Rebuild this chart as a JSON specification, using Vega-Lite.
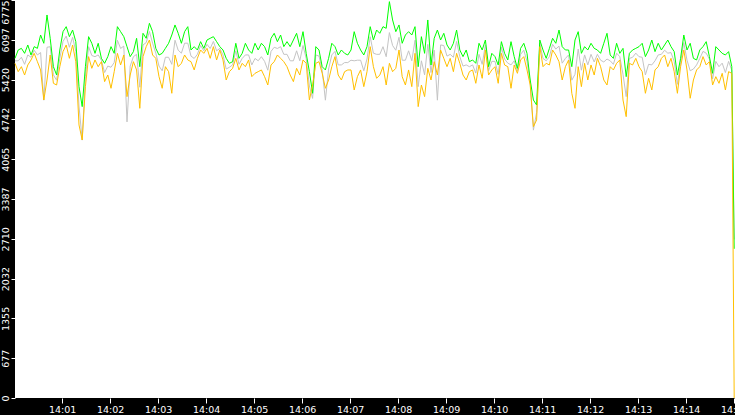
{
  "$schema": "https://vega.github.io/schema/vega-lite/v6.json",
  "width": 720,
  "height": 398,
  "autosize": {"type": "none"},
  "padding": {"left": 15, "top": 0, "right": 0, "bottom": 17},
  "background": "black",
  "config": {
    "view": {"fill": "white", "stroke": null},
    "axis": {
      "grid": false,
      "domain": false,
      "tickColor": "white",
      "labelColor": "white",
      "labelFont": "DejaVu Sans",
      "labelFontSize": 9.5,
      "labelOverlap": false,
      "title": null
    },
    "axisY": {"labelOverlap": false}
  },
  "data": {
    "values": [
      {"t":1,"g":5782,"o":5697,"k":5740},{"t":5,"g":5924,"o":5555,"k":5740},{"t":9,"g":5952,"o":5640,"k":5800},{"t":13,"g":5867,"o":5498,"k":5680},
      {"t":17,"g":6009,"o":5669,"k":5840},{"t":21,"g":5839,"o":5754,"k":5800},{"t":25,"g":5981,"o":5867,"k":5920},{"t":29,"g":5952,"o":5725,"k":5840},
      {"t":33,"g":6179,"o":5584,"k":5880},{"t":37,"g":6038,"o":5073,"k":5070},{"t":41,"g":6520,"o":5413,"k":5970},{"t":45,"g":6123,"o":5839,"k":5980},
      {"t":49,"g":5640,"o":5357,"k":5500},{"t":53,"g":5499,"o":5328,"k":5410},{"t":57,"g":5924,"o":5640,"k":5780},{"t":61,"g":6236,"o":5896,"k":6070},
      {"t":65,"g":6321,"o":6009,"k":6160},{"t":69,"g":6151,"o":5782,"k":5970},{"t":73,"g":6264,"o":6009,"k":6140},{"t":77,"g":6066,"o":5725,"k":5900},
      {"t":81,"g":5300,"o":4648,"k":4970},{"t":85,"g":4960,"o":4392,"k":4390},{"t":89,"g":5640,"o":5300,"k":5470},{"t":93,"g":6151,"o":5811,"k":5980},
      {"t":97,"g":6038,"o":5612,"k":5830},{"t":101,"g":5867,"o":5754,"k":5810},{"t":105,"g":6038,"o":5640,"k":5840},{"t":109,"g":5782,"o":5725,"k":5750},
      {"t":113,"g":5697,"o":5385,"k":5540},{"t":117,"g":5811,"o":5498,"k":5650},{"t":121,"g":5981,"o":5272,"k":5630},{"t":125,"g":5867,"o":5555,"k":5710},
      {"t":129,"g":6321,"o":5867,"k":6090},{"t":133,"g":6236,"o":5669,"k":5950},{"t":137,"g":6151,"o":5839,"k":5990},{"t":141,"g":5981,"o":5130,"k":4700},
      {"t":145,"g":5811,"o":5498,"k":5650},{"t":149,"g":5896,"o":5725,"k":5810},{"t":153,"g":6123,"o":5584,"k":5850},{"t":157,"g":5640,"o":4931,"k":5290},
      {"t":161,"g":6208,"o":5811,"k":6010},{"t":165,"g":6123,"o":5981,"k":6050},{"t":169,"g":6378,"o":6094,"k":6240},{"t":173,"g":6236,"o":5839,"k":6040},
      {"t":177,"g":5952,"o":5782,"k":5870},{"t":181,"g":5839,"o":5470,"k":5650},{"t":185,"g":5867,"o":5272,"k":5570},{"t":189,"g":5952,"o":5640,"k":5800},
      {"t":193,"g":6038,"o":5555,"k":5800},{"t":197,"g":6179,"o":5187,"k":5680},{"t":201,"g":6350,"o":5839,"k":6090},{"t":205,"g":6208,"o":5640,"k":5920},
      {"t":209,"g":6038,"o":5697,"k":5870},{"t":213,"g":6236,"o":5839,"k":6040},{"t":217,"g":6321,"o":5754,"k":6040},{"t":221,"g":5924,"o":5725,"k":5820},
      {"t":225,"g":5981,"o":5584,"k":5780},
      {"t":229,"g":5924,"o":5782,"k":5850},{"t":233,"g":6066,"o":5924,"k":6000},{"t":237,"g":5952,"o":5867,"k":5910},{"t":241,"g":6094,"o":5952,"k":6020},
      {"t":245,"g":6123,"o":5782,"k":5950},{"t":249,"g":6151,"o":5981,"k":6070},{"t":253,"g":6066,"o":5754,"k":5910},{"t":257,"g":5981,"o":5924,"k":5950},
      {"t":261,"g":5924,"o":5754,"k":5840},{"t":265,"g":5782,"o":5413,"k":5600},{"t":269,"g":5697,"o":5555,"k":5630},{"t":273,"g":5725,"o":5612,"k":5670},
      {"t":277,"g":6038,"o":5782,"k":5910},{"t":281,"g":5782,"o":5584,"k":5680},{"t":285,"g":5867,"o":5697,"k":5780},{"t":289,"g":6038,"o":5640,"k":5840},
      {"t":293,"g":5924,"o":5754,"k":5840},{"t":297,"g":5867,"o":5470,"k":5670},{"t":301,"g":6038,"o":5527,"k":5780},{"t":305,"g":5924,"o":5555,"k":5740},
      {"t":309,"g":6038,"o":5584,"k":5810},{"t":313,"g":5981,"o":5470,"k":5730},{"t":317,"g":5839,"o":5328,"k":5580},{"t":321,"g":6123,"o":5669,"k":5900},
      {"t":325,"g":6208,"o":5725,"k":5970},{"t":329,"g":6066,"o":5839,"k":5950},{"t":333,"g":6179,"o":5782,"k":5980},{"t":337,"g":5981,"o":5725,"k":5850},
      {"t":341,"g":6066,"o":5640,"k":5850},{"t":345,"g":5981,"o":5498,"k":5740},{"t":349,"g":6094,"o":5385,"k":5740},{"t":353,"g":6208,"o":5612,"k":5910},
      {"t":357,"g":5981,"o":5498,"k":5740},{"t":361,"g":6236,"o":5754,"k":6000},{"t":365,"g":5867,"o":5697,"k":5780},{"t":369,"g":5555,"o":5073,"k":5310},
      {"t":373,"g":5187,"o":5328,"k":5100},{"t":377,"g":5981,"o":5697,"k":5840},{"t":381,"g":5924,"o":5725,"k":5820},{"t":385,"g":5640,"o":5527,"k":5580},
      {"t":389,"g":5584,"o":5272,"k":5070},{"t":393,"g":5782,"o":5413,"k":5600},{"t":397,"g":6038,"o":5640,"k":5840},{"t":401,"g":5981,"o":5811,"k":5900},
      {"t":405,"g":5839,"o":5498,"k":5670},{"t":409,"g":5924,"o":5413,"k":5670},{"t":413,"g":5867,"o":5555,"k":5710},{"t":417,"g":5839,"o":5584,"k":5710},
      {"t":421,"g":5924,"o":5584,"k":5750},{"t":425,"g":6236,"o":5243,"k":5740},{"t":429,"g":6038,"o":5470,"k":5750},{"t":433,"g":5924,"o":5584,"k":5750},
      {"t":437,"g":5839,"o":5300,"k":5570},{"t":441,"g":5981,"o":5555,"k":5770},{"t":445,"g":6321,"o":5981,"k":6150},{"t":449,"g":6094,"o":5640,"k":5870},
      {"t":453,"g":6264,"o":5442,"k":5850},{"t":457,"g":6208,"o":5498,"k":5850},{"t":461,"g":6321,"o":5640,"k":5980},{"t":465,"g":6293,"o":5328,"k":5810},
      {"t":469,"g":6747,"o":5697,"k":6220},{"t":473,"g":6435,"o":5555,"k":6000},{"t":477,"g":6236,"o":5612,"k":5920},{"t":481,"g":6350,"o":5924,"k":6140},
      {"t":485,"g":6038,"o":5470,"k":5750},{"t":489,"g":6179,"o":5328,"k":5750},{"t":493,"g":6236,"o":5584,"k":5910},{"t":497,"g":6179,"o":5300,"k":5740},
      {"t":501,"g":6321,"o":5867,"k":6090},{"t":505,"g":5640,"o":4960,"k":5300},{"t":509,"g":6151,"o":5328,"k":5740},{"t":513,"g":5867,"o":5130,"k":5500},
      {"t":517,"g":6435,"o":5612,"k":6020},{"t":521,"g":5669,"o":5413,"k":5540},{"t":525,"g":6123,"o":5725,"k":5920},{"t":529,"g":6264,"o":5498,"k":5070},
      {"t":533,"g":6094,"o":5924,"k":6010},{"t":537,"g":6208,"o":5782,"k":6000},{"t":541,"g":6009,"o":5640,"k":5820},{"t":545,"g":5924,"o":5782,"k":5850},
      {"t":549,"g":6038,"o":5555,"k":5800},{"t":553,"g":6264,"o":5867,"k":6070},{"t":557,"g":5924,"o":5697,"k":5810},{"t":561,"g":5811,"o":5498,"k":5650},
      {"t":565,"g":5924,"o":5413,"k":5670},{"t":569,"g":5725,"o":5555,"k":5640},{"t":573,"g":5754,"o":5584,"k":5670},{"t":577,"g":5697,"o":5357,"k":5530},
      {"t":581,"g":6038,"o":5669,"k":5850},{"t":585,"g":5924,"o":5442,"k":5680},{"t":589,"g":6094,"o":5924,"k":6010},{"t":593,"g":5640,"o":5498,"k":5570},
      {"t":597,"g":5867,"o":5584,"k":5730},{"t":601,"g":5811,"o":5640,"k":5730},{"t":605,"g":5669,"o":5357,"k":5510},{"t":609,"g":6066,"o":5867,"k":5970},
      {"t":613,"g":5867,"o":5669,"k":5770},{"t":617,"g":5754,"o":5640,"k":5700},{"t":621,"g":6066,"o":5272,"k":5670},{"t":625,"g":5811,"o":5669,"k":5740},
      {"t":629,"g":5612,"o":5527,"k":5570},{"t":633,"g":5952,"o":5754,"k":5850},{"t":637,"g":6038,"o":5811,"k":5920},{"t":641,"g":5867,"o":5584,"k":5730},
      {"t":645,"g":5413,"o":5328,"k":5370},{"t":649,"g":5073,"o":4619,"k":4560},{"t":653,"g":4988,"o":4733,"k":4860},{"t":657,"g":6094,"o":5981,"k":6040},
      {"t":661,"g":5924,"o":5640,"k":5780},{"t":665,"g":5782,"o":5697,"k":5740},{"t":669,"g":5952,"o":5669,"k":5810},{"t":673,"g":6123,"o":5924,"k":6020},
      {"t":677,"g":6038,"o":5839,"k":5940},{"t":681,"g":6264,"o":5725,"k":5990},{"t":685,"g":5981,"o":5413,"k":5700},{"t":689,"g":5924,"o":5640,"k":5780},
      {"t":693,"g":5924,"o":5754,"k":5840},{"t":697,"g":5640,"o":5187,"k":5410},{"t":701,"g":6094,"o":4931,"k":5510},{"t":705,"g":6236,"o":5640,"k":5940},
      {"t":709,"g":5867,"o":5300,"k":5580},{"t":713,"g":5981,"o":5697,"k":5840},{"t":717,"g":5924,"o":5413,"k":5670},{"t":721,"g":6038,"o":5669,"k":5850},
      {"t":725,"g":5952,"o":5498,"k":5720},{"t":729,"g":5924,"o":5782,"k":5850},{"t":733,"g":5867,"o":5640,"k":5750},{"t":737,"g":6038,"o":5413,"k":5720},
      {"t":741,"g":6208,"o":5328,"k":5770},{"t":745,"g":5839,"o":5640,"k":5740},{"t":749,"g":5782,"o":5584,"k":5680},{"t":753,"g":6038,"o":5697,"k":5870},
      {"t":757,"g":5867,"o":5754,"k":5810},{"t":761,"g":5952,"o":5073,"k":5510},{"t":765,"g":5470,"o":4789,"k":5130},{"t":769,"g":5867,"o":5697,"k":5780},
      {"t":773,"g":5924,"o":5669,"k":5800},{"t":777,"g":5952,"o":5782,"k":5870},{"t":781,"g":5981,"o":5640,"k":5810},{"t":785,"g":6038,"o":5555,"k":5800},
      {"t":789,"g":5811,"o":5187,"k":5500},{"t":793,"g":5924,"o":5442,"k":5680},{"t":797,"g":6094,"o":5243,"k":5670},{"t":801,"g":5896,"o":5584,"k":5740},
      {"t":805,"g":6038,"o":5640,"k":5840},{"t":809,"g":5924,"o":5782,"k":5850},{"t":813,"g":6009,"o":5839,"k":5920},{"t":817,"g":6094,"o":5640,"k":5870},
      {"t":821,"g":5981,"o":5782,"k":5880},{"t":825,"g":5896,"o":5555,"k":5730},{"t":829,"g":5498,"o":5187,"k":5340},{"t":833,"g":5782,"o":5640,"k":5710},
      {"t":837,"g":6179,"o":5924,"k":6050},{"t":841,"g":5924,"o":5584,"k":5750},{"t":845,"g":6038,"o":5102,"k":5570},{"t":849,"g":5782,"o":5413,"k":5600},
      {"t":853,"g":5754,"o":5584,"k":5670},{"t":857,"g":5924,"o":5640,"k":5780},{"t":861,"g":5981,"o":5811,"k":5900},{"t":865,"g":6066,"o":5669,"k":5870},
      {"t":869,"g":5811,"o":5725,"k":5770},{"t":873,"g":5527,"o":5328,"k":5430},{"t":877,"g":5981,"o":5470,"k":5730},{"t":881,"g":5924,"o":5357,"k":5640},
      {"t":885,"g":5867,"o":5527,"k":5700},{"t":889,"g":5839,"o":5243,"k":5540},{"t":893,"g":5896,"o":5555,"k":5730},{"t":897,"g":5640,"o":5527,"k":5580},
      {"t":900,"g":2540,"o":0,"k":2700}
    ]
  },
  "encoding": {
    "x": {
      "field": "t",
      "type": "quantitative",
      "scale": {"domain": [1, 901], "nice": false, "zero": false},
      "axis": {
        "values": [60, 120, 180, 240, 300, 360, 420, 480, 540, 600, 660, 720, 780, 840, 900],
        "labelExpr": "'14:' + (datum.value < 600 ? '0' : '') + datum.value / 60",
        "tickSize": 5,
        "labelPadding": 1,
        "labelFlush": false,
        "labelOverlap": false
      }
    }
  },
  "layer": [
    {
      "mark": {"type": "line", "color": "#c4c4c4", "strokeWidth": 1},
      "encoding": {
        "y": {
          "field": "k",
          "type": "quantitative",
          "scale": {"domain": [0, 6775], "nice": false},
          "axis": {
            "values": [0, 677.5, 1355, 2032.5, 2710, 3387.5, 4065, 4742.5, 5420, 6097.5, 6775],
            "labelExpr": "floor(datum.value)",
            "labelAngle": 270,
            "labelAlign": {"condition": {"test": "datum.value == 6775", "value": "right"}, "value": "center"},
            "tickSize": 4,
            "labelPadding": 1,
            "labelFlush": false,
            "labelOverlap": false
          }
        }
      }
    },
    {
      "mark": {"type": "line", "color": "#00ff00", "strokeWidth": 1},
      "encoding": {
        "y": {
          "field": "g",
          "type": "quantitative",
          "axis": {
            "values": [0, 677.5, 1355, 2032.5, 2710, 3387.5, 4065, 4742.5, 5420, 6097.5, 6775],
            "labelExpr": "floor(datum.value)",
            "labelAngle": 270,
            "labelAlign": {"condition": {"test": "datum.value == 6775", "value": "right"}, "value": "center"},
            "tickSize": 4,
            "labelPadding": 1,
            "labelFlush": false,
            "labelOverlap": false
          }
        }
      }
    },
    {
      "mark": {"type": "line", "color": "#ffc000", "strokeWidth": 1},
      "encoding": {
        "y": {
          "field": "o",
          "type": "quantitative",
          "axis": {
            "values": [0, 677.5, 1355, 2032.5, 2710, 3387.5, 4065, 4742.5, 5420, 6097.5, 6775],
            "labelExpr": "floor(datum.value)",
            "labelAngle": 270,
            "labelAlign": {"condition": {"test": "datum.value == 6775", "value": "right"}, "value": "center"},
            "tickSize": 4,
            "labelPadding": 1,
            "labelFlush": false,
            "labelOverlap": false
          }
        }
      }
    }
  ]
}
